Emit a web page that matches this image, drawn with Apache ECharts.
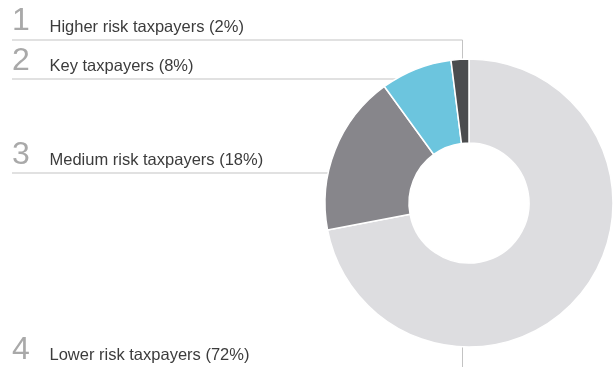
<!DOCTYPE html>
<html>
<head>
<meta charset="utf-8">
<script src="https://cdn.jsdelivr.net/npm/echarts@6/dist/echarts.min.js"></script>
<style>
  html, body { margin: 0; padding: 0; background: #fff; }
  #chart { width: 614px; height: 367px; }
</style>
</head>
<body>
<div id="chart"></div>
<script>
// Taxpayer segments, listed clockwise from 12 o'clock
const categories = ['Lower risk taxpayers', 'Medium risk taxpayers', 'Key taxpayers', 'Higher risk taxpayers'];
const shares = [72, 18, 8, 2];
const colors = ['#dddde0', '#87868b', '#6cc5de', '#4b4c4e'];

// Legend rows, top to bottom: index into categories and the row number shown
const rowOrder = [3, 2, 1, 0];
const rowNumbers = ['1', '2', '3', '4'];

const cx = 469, cy = 203, rOuter = 144, rInner = 60;
const ruleColor = '#c3c3c3';
const textLeft = 49.5, numLeft = 12;

// layout of each legend row: rule line y, label middle y, numeral middle y
const rows = [
  { rule: 40,  label: 27.5,  num: 22 },
  { rule: 79,  label: 67,    num: 62 },
  { rule: 173, label: 161,   num: 156 },
  { rule: null, label: 356,  num: 351 }
];

// x where a horizontal rule at height y meets the left side of the ring
function ringLeftX(y) {
  const dy = cy - y;
  return cx - Math.sqrt(Math.max(0, rOuter * rOuter - dy * dy));
}

const graphics = [];
rows.forEach((row, i) => {
  const idx = rowOrder[i];
  graphics.push({
    type: 'text', left: numLeft, top: row.num - 17,
    style: { text: rowNumbers[i], fill: '#a9a9a9', font: '32px "Liberation Sans", Arial, sans-serif', verticalAlign: 'top' }
  });
  graphics.push({
    type: 'text', left: textLeft, top: row.label - 9,
    style: { text: categories[idx] + ' (' + shares[idx] + '%)', fill: '#3c3c3c', font: '16.5px "Liberation Sans", Arial, sans-serif', verticalAlign: 'top' }
  });
});

const leaderX = 462.5;
// row 1: across, then down to the thin dark slice
graphics.push({ type: 'polyline', silent: true,
  shape: { points: [[12, rows[0].rule], [leaderX, rows[0].rule], [leaderX, cy - Math.sqrt(rOuter * rOuter - (cx - leaderX) ** 2)]] },
  style: { stroke: ruleColor, lineWidth: 1, fill: null } });
// rows 2 and 3: across to the ring edge
[1, 2].forEach(i => {
  graphics.push({ type: 'line', silent: true,
    shape: { x1: 12, y1: rows[i].rule, x2: ringLeftX(rows[i].rule), y2: rows[i].rule },
    style: { stroke: ruleColor, lineWidth: 1 } });
});
// row 4: short drop below the ring
graphics.push({ type: 'line', silent: true,
  shape: { x1: leaderX, y1: cy + Math.sqrt(rOuter * rOuter - (cx - leaderX) ** 2), x2: leaderX, y2: 367 },
  style: { stroke: ruleColor, lineWidth: 1 } });

const chart = echarts.init(document.getElementById('chart'), null, { renderer: 'canvas' });
chart.setOption({
  animation: false,
  graphic: { elements: graphics },
  series: [{
    type: 'pie',
    center: [cx, cy],
    radius: [rInner, rOuter],
    startAngle: 90,
    clockwise: true,
    label: { show: false },
    labelLine: { show: false },
    silent: true,
    itemStyle: { borderColor: '#ffffff', borderWidth: 1.5 },
    data: categories.map((name, i) => ({ name, value: shares[i], itemStyle: { color: colors[i] } }))
  }]
});
</script>
</body>
</html>
